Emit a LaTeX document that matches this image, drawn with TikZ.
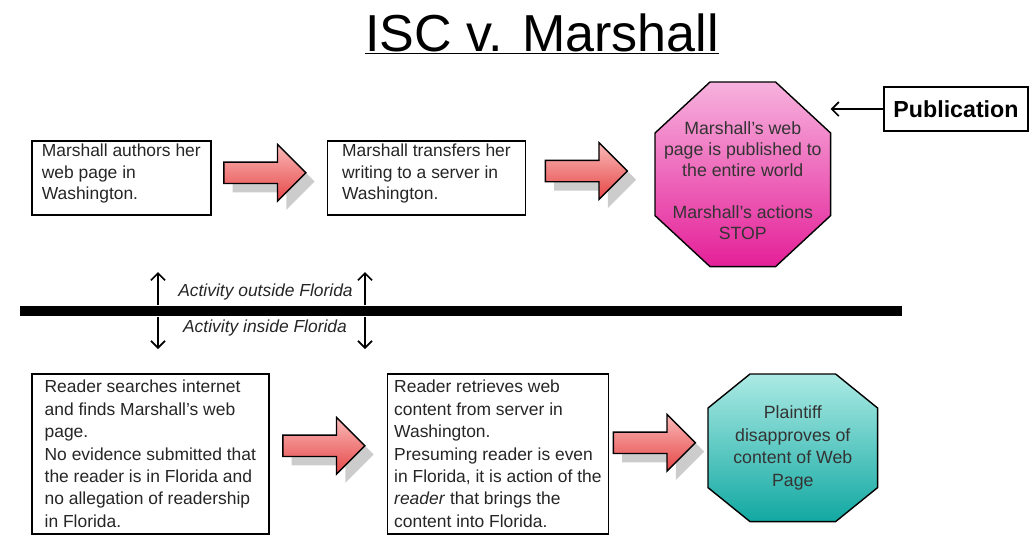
\documentclass[tikz,border=0pt]{standalone}
\usepackage{fontspec}
\setmainfont{Liberation Sans}
\usepackage{xcolor}
\usetikzlibrary{positioning,shapes.arrows,shadows,calc,arrows.meta,backgrounds}

\definecolor{arrowtop}{RGB}{250,185,185}
\definecolor{arrowbot}{RGB}{230,70,70}
\definecolor{pinktop}{RGB}{247,178,222}
\definecolor{pinkbot}{RGB}{228,32,152}
\definecolor{tealtop}{RGB}{172,234,228}
\definecolor{tealbot}{RGB}{18,168,162}

\begin{document}
\begin{tikzpicture}[x=0.025cm, y=-0.025cm,
    stepbox/.style={rectangle, draw=black, line width=1.1pt, fill=white,
                    inner sep=0pt, align=left, text=black!85,
                    font=\fontsize{12.4}{15}\selectfont},
    lowbox/.style={stepbox, minimum height=4cm,
                   font=\fontsize{12.4}{15.9}\selectfont},
    flow/.style={single arrow, draw=black, line width=1pt, anchor=tail,
                 inner xsep=0pt, inner ysep=0.25cm,
                 minimum height=2.05cm, minimum width=1.375cm,
                 single arrow head extend=0.44cm,
                 top color=arrowtop, bottom color=arrowbot,
                 drop shadow={shadow xshift=0.22cm, shadow yshift=-0.22cm,
                              fill=black!20, opacity=1}},
    octo/.style={rectangle, align=center, inner sep=0pt, text=black!80},
    octoline/.style={draw=black, line width=1pt},
    note/.style={font=\fontsize{12.4}{15}\selectfont\itshape, text=black!85},
    tick/.style={-{Straight Barb[length=5pt, width=10pt]}, line width=1.2pt}
]
\useasboundingbox (0,0) rectangle (1032,535);

% Title
\node[font=\fontsize{37}{44}\selectfont, anchor=base] (title) at (542,51)
     {\underline{ISC v. Marshall}};

% Top row: outside Florida
\node[stepbox, anchor=north west, minimum width=4.475cm, minimum height=1.85cm] (authors) at (31,140)
     {Marshall authors her\\web page in\\Washington.\rule[-8.6pt]{0pt}{0pt}};
\node[stepbox, right=2.875cm of authors, minimum width=4.95cm, minimum height=1.85cm] (transfer)
     {Marshall transfers her\\writing to a server in\\Washington.\rule[-8.6pt]{0pt}{0pt}};
\node[octo, anchor=north west, minimum width=4.375cm, minimum height=4.6cm,
      font=\fontsize{12.6}{14.9}\selectfont] (stop) at (655,82)
     {\rule{0pt}{17.8pt}Marshall's web\\page is published to\\the entire world\\[14.9pt]Marshall's actions\\STOP};
\node[stepbox, align=center, minimum width=3.6cm, minimum height=1.1cm,
      font=\fontsize{16.5}{20}\selectfont\bfseries, text=black] (pub) at (956,109) {Publication};

% Bottom row: inside Florida
\node[lowbox, anchor=north west, minimum width=5.925cm] (search) at (31,373)
     {Reader searches internet\\and finds Marshall's web\\page.\\No evidence submitted that\\the reader is in Florida and\\no allegation of readership\\in Florida.};
\node[lowbox, right=2.925cm of search, minimum width=5.525cm] (retrieve)
     {Reader retrieves web\\content from server in\\Washington.\\Presuming reader is even\\in Florida, it is action of the\\\textit{reader} that brings the\\content into Florida.};
\node[octo, anchor=north west, minimum width=4.225cm, minimum height=3.675cm,
      font=\fontsize{12.6}{16.1}\selectfont] (plaintiff) at (708,374)
     {Plaintiff\\disapproves of\\content of Web\\Page};

% Octagon outlines behind their text
\begin{scope}[on background layer]
\draw[octoline, top color=pinktop, bottom color=pinkbot]
    ([xshift=1.375cm]stop.north west) -- ([xshift=-1.375cm]stop.north east)
 -- ([yshift=-1.275cm]stop.north east) -- ([yshift=1.275cm]stop.south east)
 -- ([xshift=-1.375cm]stop.south east) -- ([xshift=1.375cm]stop.south west)
 -- ([yshift=1.275cm]stop.south west) -- ([yshift=-1.275cm]stop.north west) -- cycle;
\draw[octoline, top color=tealtop, bottom color=tealbot]
    ([xshift=1.05cm]plaintiff.north west) -- ([xshift=-1.05cm]plaintiff.north east)
 -- ([yshift=-0.85cm]plaintiff.north east) -- ([yshift=0.85cm]plaintiff.south east)
 -- ([xshift=-1.05cm]plaintiff.south east) -- ([xshift=1.05cm]plaintiff.south west)
 -- ([yshift=0.85cm]plaintiff.south west) -- ([yshift=-0.85cm]plaintiff.north west) -- cycle;
\end{scope}

% Block arrows, centred in the gaps
\node[flow, xshift=-1.15cm, yshift=0.125cm] (a1) at ($(authors.east)!0.5!(transfer.west)$) {};
\node[flow, xshift=-1.15cm, yshift=0.125cm] (a2) at ($(transfer.east)!0.5!(stop.west)$) {};
\node[flow, xshift=-1.15cm, yshift=0.2cm] (a3) at ($(search.east)!0.5!(retrieve.west)$) {};
\node[flow, xshift=-1.15cm, yshift=0.2cm] (a4) at ($(retrieve.east)!0.5!(plaintiff.west)$) {};
\draw[tick] (pub.west) -- (pub.west -| stop.east);

% Florida border
\coordinate (barW) at (20,311);
\coordinate (barE) at (902,311);
\draw[line width=7pt] (barW) -- (barE);

\coordinate (lt) at (158,272);
\coordinate (lb) at (158,349);
\coordinate (rt) at (365,272);
\coordinate (rb) at (365,349);
\draw[tick, shorten <=0.15cm] (lt |- barW) -- (lt);
\draw[tick, shorten <=0.15cm] (rt |- barW) -- (rt);
\draw[tick, shorten <=0.15cm] (lb |- barW) -- (lb);
\draw[tick, shorten <=0.15cm] (rb |- barW) -- (rb);
\node[note] (outside) at (265.5,292) {Activity outside Florida};
\node[note] (inside) at (265,328) {Activity inside Florida};

\end{tikzpicture}
\end{document}
